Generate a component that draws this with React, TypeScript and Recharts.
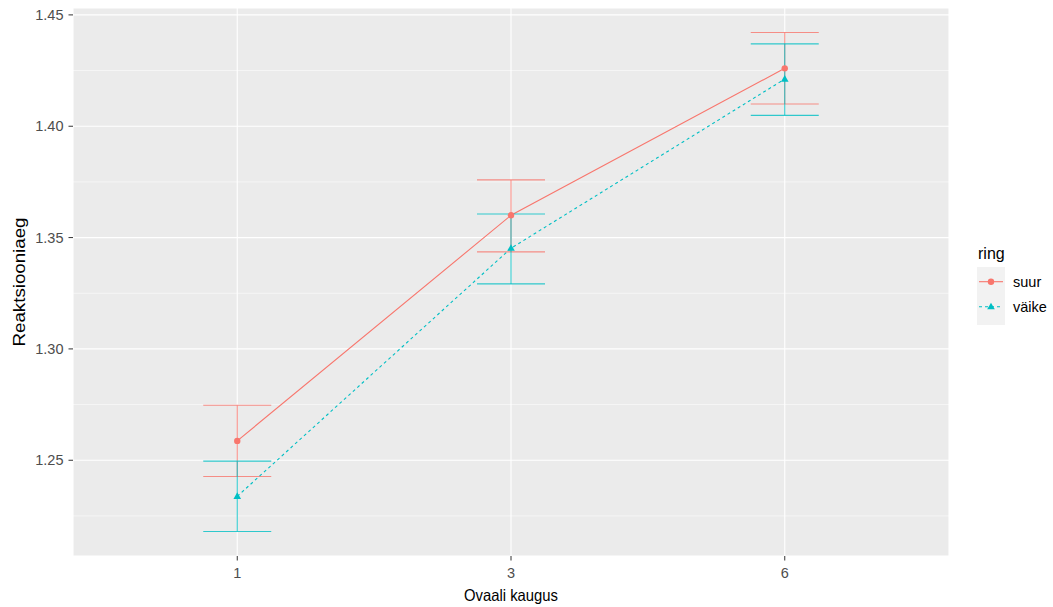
import React from "react";
import {
  CartesianGrid,
  ComposedChart,
  ErrorBar,
  Line,
  ReferenceLine,
  XAxis,
  YAxis,
} from "recharts";

// ggplot2-like point/line chart with error bars, two groups ("ring")

const categories = ["1", "3", "6"];
const positions = [1, 2, 3];

const suurMean = [1.2587, 1.36, 1.426];
const suurLow = [1.2427, 1.3436, 1.41];
const suurHigh = [1.2747, 1.3759, 1.4421];

const vaikeMean = [1.2338, 1.3452, 1.4212];
const vaikeLow = [1.218, 1.3292, 1.4049];
const vaikeHigh = [1.2496, 1.3606, 1.437];

const yTicks = [1.25, 1.3, 1.35, 1.4, 1.45];
const yMinor = [1.225, 1.275, 1.325, 1.375, 1.425];

const RED = "#F8766D";
const TEAL = "#00BFC4";
const FONT = "'Liberation Sans', Arial, sans-serif";

const data = categories.map((c, i) => ({
  pos: positions[i],
  label: c,
  suur: suurMean[i],
  suurErr: [suurMean[i] - suurLow[i], suurHigh[i] - suurMean[i]],
  vaike: vaikeMean[i],
  vaikeErr: [vaikeMean[i] - vaikeLow[i], vaikeHigh[i] - vaikeMean[i]],
}));

const triangle = (cx: number, cy: number, s: number) =>
  `M${cx},${cy - s} L${cx + s * 0.95},${cy + s * 0.65} L${cx - s * 0.95},${cy + s * 0.65} Z`;

const TriangleDot = (props: any) => {
  const { cx, cy, index } = props;
  if (cx == null || cy == null) return <g key={`t-${index}`} />;
  return <path key={`t-${index}`} d={triangle(cx, cy, 4)} fill={TEAL} />;
};

const tickStyle = { fontSize: 14.5, fill: "#4D4D4D", fontFamily: FONT };

export default function App() {
  return (
    <div
      style={{
        position: "absolute",
        left: 0,
        top: 0,
        width: 1053,
        height: 607,
        background: "#fff",
        fontFamily: FONT,
      }}
    >
      <ComposedChart
        width={1053}
        height={607}
        data={data}
        margin={{ top: 8, right: 104, bottom: 21, left: 0 }}
      >
        <CartesianGrid fill="#EBEBEB" stroke="#FFFFFF" strokeWidth={1.1} />
        {yMinor.map((v) => (
          <ReferenceLine key={v} y={v} stroke="#FFFFFF" strokeWidth={0.55} />
        ))}
        <XAxis
          type="number"
          dataKey="pos"
          domain={[0.4, 3.6]}
          ticks={positions}
          allowDataOverflow
          tickFormatter={(v: number) => categories[v - 1]}
          height={30}
          axisLine={false}
          tickLine={{ stroke: "#333333", strokeWidth: 1 }}
          tickSize={4.5}
          tickMargin={7}
          tick={tickStyle}
          label={{
            content: (p: any) => {
              const vb = p.viewBox;
              return (
                <text
                  x={vb.x + vb.width / 2}
                  y={595}
                  textAnchor="middle"
                  dominantBaseline="central"
                  fontSize={16.5}
                  textLength={94}
                  lengthAdjust="spacingAndGlyphs"
                  fill="#000"
                  fontFamily={FONT}
                >
                  Ovaali kaugus
                </text>
              );
            },
          }}
        />
        <YAxis
          type="number"
          domain={[1.207, 1.4531]}
          ticks={yTicks}
          allowDataOverflow
          tickFormatter={(v: number) => v.toFixed(2)}
          width={73}
          axisLine={false}
          tickLine={{ stroke: "#333333", strokeWidth: 1 }}
          tickSize={4.5}
          tickMargin={5}
          tick={tickStyle}
          label={{
            content: (p: any) => {
              const vb = p.viewBox;
              const cy = vb.y + vb.height / 2;
              return (
                <text
                  x={19}
                  y={cy}
                  transform={`rotate(-90 19 ${cy})`}
                  textAnchor="middle"
                  dominantBaseline="central"
                  fontSize={17}
                  textLength={129}
                  lengthAdjust="spacingAndGlyphs"
                  fill="#000"
                  fontFamily={FONT}
                >
                  Reaktsiooniaeg
                </text>
              );
            },
          }}
        />
        <Line
          dataKey="suur"
          stroke={RED}
          strokeWidth={1.1}
          dot={{ r: 3.2, fill: RED, stroke: "none" }}
          activeDot={false}
          isAnimationActive={false}
        >
          <ErrorBar
            dataKey="suurErr"
            direction="y"
            width={34}
            stroke={RED}
            strokeWidth={1.1}
            strokeOpacity={0.8}
          />
        </Line>
        <Line
          dataKey="vaike"
          stroke={TEAL}
          strokeWidth={1.1}
          strokeDasharray="3 3"
          dot={TriangleDot}
          activeDot={false}
          isAnimationActive={false}
        >
          <ErrorBar
            dataKey="vaikeErr"
            direction="y"
            width={34}
            stroke={TEAL}
            strokeWidth={1.1}
            strokeOpacity={0.8}
          />
        </Line>
      </ComposedChart>

      {/* legend */}
      <svg
        width={100}
        height={95}
        style={{ position: "absolute", left: 950, top: 235 }}
      >
        <text x={28} y={18} fontSize={16} fill="#000" fontFamily={FONT} dominantBaseline="central">
          ring
        </text>
        <rect x={27} y={32} width={28} height={58} fill="#F2F2F2" />
        <line x1={29} x2={53} y1={46.7} y2={46.7} stroke={RED} strokeWidth={1.1} />
        <circle cx={41} cy={46.7} r={3.2} fill={RED} />
        <line x1={29} x2={53} y1={71.7} y2={71.7} stroke={TEAL} strokeWidth={1.1} strokeDasharray="3 3" />
        <path d={triangle(41, 71.7, 4)} fill={TEAL} />
        <text x={63} y={46.7} fontSize={14.5} fill="#000" fontFamily={FONT} dominantBaseline="central">
          suur
        </text>
        <text x={63} y={71.7} fontSize={14.5} fill="#000" fontFamily={FONT} dominantBaseline="central">
          väike
        </text>
      </svg>
    </div>
  );
}
